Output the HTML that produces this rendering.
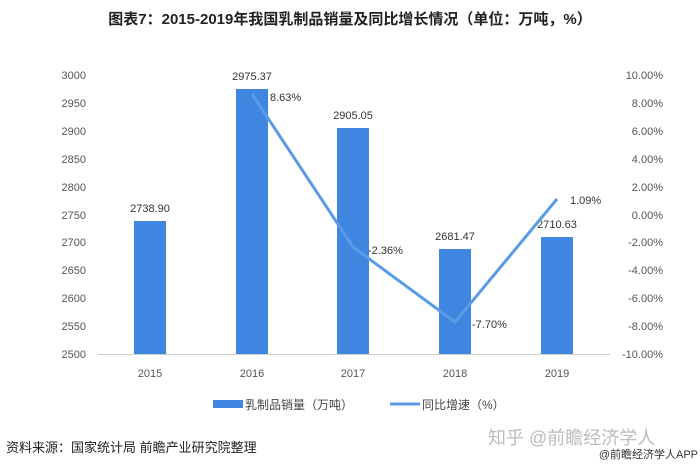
<!DOCTYPE html>
<html><head><meta charset="utf-8"><style>
body{margin:0;background:#fff;}
svg text{font-family:"Liberation Sans","Noto Sans CJK SC",sans-serif;}
</style></head><body>
<svg width="700" height="470" xmlns="http://www.w3.org/2000/svg">
<rect width="700" height="470" fill="#fff"/>
<text x="350" y="24" text-anchor="middle" font-size="15" font-weight="bold" fill="#222">图表7：2015-2019年我国乳制品销量及同比增长情况（单位：万吨，%）</text>
<g font-size="11" fill="#555" text-anchor="end">
<text x="86" y="79">3000</text><text x="86" y="107">2950</text><text x="86" y="135">2900</text><text x="86" y="163">2850</text><text x="86" y="191">2800</text><text x="86" y="219">2750</text><text x="86" y="246">2700</text><text x="86" y="274">2650</text><text x="86" y="302">2600</text><text x="86" y="330">2550</text><text x="86" y="358">2500</text>
</g>
<g font-size="11" fill="#555" text-anchor="end">
<text x="663" y="79">10.00%</text><text x="663" y="107">8.00%</text><text x="663" y="135">6.00%</text><text x="663" y="163">4.00%</text><text x="663" y="191">2.00%</text><text x="663" y="219">0.00%</text><text x="663" y="246">-2.00%</text><text x="663" y="274">-4.00%</text><text x="663" y="302">-6.00%</text><text x="663" y="330">-8.00%</text><text x="663" y="358">-10.00%</text>
</g>
<line x1="98" y1="354.5" x2="610" y2="354.5" stroke="#ccc" stroke-width="1"/>
<g fill="#3f86e0">
<rect x="134" y="221" width="32" height="133"/>
<rect x="236" y="89" width="32" height="265"/>
<rect x="337" y="128" width="32" height="226"/>
<rect x="439" y="249" width="32" height="105"/>
<rect x="541" y="237" width="32" height="117"/>
</g>
<g font-size="11" fill="#333" text-anchor="middle">
<text x="150" y="212">2738.90</text>
<text x="252" y="80">2975.37</text>
<text x="353" y="119">2905.05</text>
<text x="455" y="240">2681.47</text>
<text x="557" y="228">2710.63</text>
</g>
<polyline points="252,94 353,247 455,322 557,199" fill="none" stroke="#5b9be6" stroke-width="3"/>
<g font-size="11" fill="#333">
<text x="270" y="101">8.63%</text>
<text x="368" y="254">-2.36%</text>
<text x="472" y="328">-7.70%</text>
<text x="570" y="204">1.09%</text>
</g>
<g font-size="11" fill="#555" text-anchor="middle">
<text x="150" y="377">2015</text><text x="252" y="377">2016</text><text x="353" y="377">2017</text><text x="455" y="377">2018</text><text x="557" y="377">2019</text>
</g>
<rect x="213" y="400" width="30" height="8" fill="#3f86e0"/>
<text x="245" y="409" font-size="12" fill="#444">乳制品销量（万吨）</text>
<line x1="390" y1="404" x2="420" y2="404" stroke="#5b9be6" stroke-width="3"/>
<text x="422" y="409" font-size="12" fill="#444">同比增速（%）</text>
<text x="6" y="452" font-size="13" fill="#222">资料来源：国家统计局 前瞻产业研究院整理</text>
<text x="488" y="444" font-size="18" fill="#bbb">知乎 @前瞻经济学人</text>
<text x="698" y="458" font-size="11" fill="#333" text-anchor="end">@前瞻经济学人APP</text>
</svg>
</body></html>
